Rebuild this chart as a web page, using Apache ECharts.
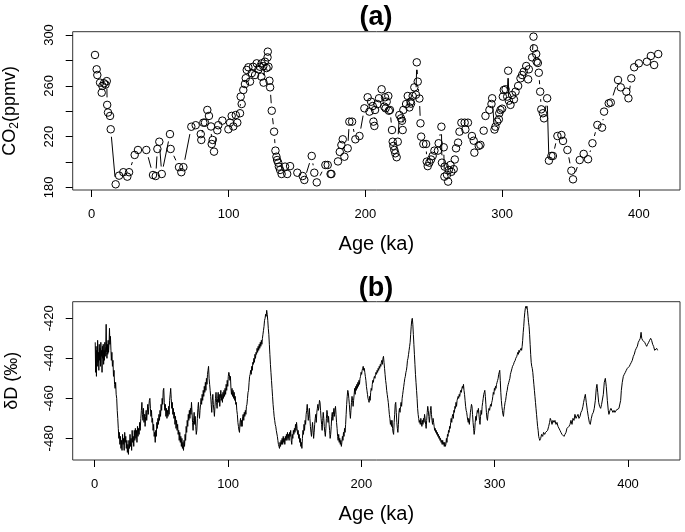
<!DOCTYPE html>
<html><head><meta charset="utf-8">
<script src="https://cdn.jsdelivr.net/npm/echarts@6/dist/echarts.min.js"></script>
<style>html,body{margin:0;padding:0;background:#fff}#c{width:685px;height:532px}</style>
</head><body><div id="c"></div><script>
// ---- data ----
const xTicks = [0, 100, 200, 300, 400];
const co2Ticks = [180, 200, 220, 240, 260, 280, 300];
const co2Labels = [180, 220, 260, 300];
const dDTicks = [-480, -460, -440, -420];

// CO2 (age ka, ppmv)
const co2Data = [
[2.4,284.3],[3.6,273],[4.1,268.5],[6.1,262.5],[7.3,254.6],[7.8,259.9],[9.0,262],[10.1,261],[11.0,263.7],[11.3,245],
[11.9,239],[13.4,236.3],[13.9,225.8],[17.5,182.5],[20.0,189.3],[23.1,192],[26.0,188.5],[27.3,192],[31.4,205.6],[33.8,209.5],
[39.9,209.5],[44.8,189.8],[46.8,189],[48.0,210.3],[49.4,216],[51.2,190.6],[57.2,222],[57.7,210.3],[63.8,196],[65.5,192],
[67.0,196],[72.8,227.8],[76.0,229],[79.7,222],[80.1,217.4],[81.6,231],[82.8,231],[84.5,241],[85.7,236.3],[87.2,228],
[87.7,214.2],[88.4,217.4],[89.4,208.2],[91.8,225],[92.5,229],[95.5,232.6],[99.9,225.8],[101.1,231],[102.3,236.3],[103.5,228],
[105.3,237],[106.4,231],[108.4,238.4],[108.9,251.5],[109.6,245.7],[110.8,256.7],[112.0,261.4],[112.6,266],[113.3,272.5],[114.5,274.6],
[115.7,263.3],[117.0,270],[117.9,275],[119.4,268.5],[120.6,277.7],[121.9,273],[123.0,275],[124.0,267.2],[124.2,277.7],[125.4,275.5],
[125.6,262.5],[126.6,279],[127.8,274],[128.5,282.4],[128.7,286.9],[129.2,275],[129.9,264],[130.4,258.8],[131.6,240.4],[133.3,223.9],
[134.3,209],[135.0,204.2],[135.5,201.6],[136.3,199.5],[136.8,196.4],[137.7,193.8],[138.8,190.6],[141.3,196.4],[142.9,190.6],[145.0,196.8],
[150.3,191.6],[154.2,189],[155.4,185.9],[160.8,204.8],[162.7,191.6],[164.5,184],[170.8,197.7],[172.5,197.7],[174.6,190.6],[175.2,190.6],
[180.0,200.5],[181.3,208],[182.5,213.4],[183.5,217.9],[184.7,204.2],[187.1,210.8],[188.3,231.8],[190.3,231.8],[192.7,217.9],[195.7,220.5],
[199.3,242.3],[201.7,251],[203.0,239.7],[204.2,247.5],[205.4,244.1],[205.9,231.8],[206.6,228.4],[207.1,241],[208.8,245.6],[210.0,250.2],
[211.9,257.3],[213.9,243.6],[214.4,251],[214.8,242.3],[215.6,247.5],[216.8,252],[217.2,240.4],[218.0,241],[219.5,225.2],[220.0,216],
[220.5,212.7],[221.2,209.5],[221.9,206.9],[222.9,203.8],[223.7,216],[224.9,237],[226.1,234.4],[226.8,232.5],[227.3,225.2],[227.8,241],
[229.8,245.7],[231.0,252],[232.2,243],[233.0,247.5],[233.4,246],[234.6,252],[235.8,258.8],[237.0,253],[237.6,278.5],[238.3,263.3],
[239.5,250],[240.3,230.5],[240.8,220],[242.4,214.2],[244.4,214.2],[244.9,200.3],[245.6,196.8],[246.8,199.5],[248.0,202],[249.2,204.8],
[250.5,209],[253.1,209],[253.6,214.8],[255.6,227.8],[256.0,199.5],[257.3,211.6],[257.8,188.5],[258.0,196.4],[259.7,190],[260.5,184.6],
[261.0,193.8],[262.2,197.7],[262.9,192.3],[264.6,194.4],[265.4,202],[266.3,210.8],[267.8,215.3],[268.8,223.9],[270.2,231],[272.6,231],
[273.1,225.6],[275.0,231],[277.9,220.5],[279.2,216.8],[279.7,207.4],[282.9,212.7],[284.1,213.5],[286.5,224.7],[287.8,236.3],[290.7,241],
[292.2,245.7],[292.7,250.2],[294.4,225.6],[295.1,227.8],[296.4,231.8],[297.6,233.7],[297.9,238.4],[298.8,241],[300.0,242],[300.5,251.5],
[301.2,256.7],[302.5,257.3],[303.7,251.5],[304.4,271.9],[304.9,248.3],[306.1,245],[307.3,252.8],[308.6,249.3],[309.8,255.4],[311.7,259.9],
[313.4,265.9],[314.6,268.5],[315.8,271.1],[317.6,275.6],[319.0,265.1],[319.5,273],[321.9,282.4],[322.9,298.7],[323.2,289.5],[324.9,285],
[325.2,279],[326.1,278],[326.8,270.3],[327.8,255.4],[328.6,241.5],[329.8,238.4],[330.6,234.4],[332.9,250.2],[334.2,201.1],[336.0,204.8],
[337.1,204.8],[340.4,220.5],[343.3,221.3],[344.5,216.6],[347.7,209.5],[350.6,193.2],[351.8,186.4],[356.7,201.6],[359.6,206.4],[362.8,202.2],
[366.0,214.8],[369.6,229.2],[373.0,227.1],[374.5,239.7],[377.9,246.2],[379.4,246.8],[384.7,264.6],[386.7,258.8],[390.8,255.4],[392.3,250.2],
[394.4,265.9],[396.5,274.6],[399.9,277.7],[405.8,279],[408.7,283.5],[411.1,276.4],[414.1,285]
];

// deuterium (age ka, per mil)
const dDData = [
[0.4,-432],[0.7,-447],[1.0,-434],[1.3,-449],[1.6,-436],[1.9,-444],[2.2,-431],[2.5,-442],[2.8,-437],[3.1,-446],[3.4,-433],[3.7,-441],[4.0,-435],[4.3,-444],[4.6,-432],[4.9,-439],[5.2,-436],[5.5,-447],[5.8,-434],[6.1,-440],[6.4,-433],[6.7,-443],[7.0,-436],[7.3,-441],[7.6,-432],[7.9,-439],[8.3,-434],[8.6,-423],[8.9,-437],[9.2,-440],[9.5,-433],[9.8,-438],[10.1,-431],[10.4,-437],[10.8,-432],[11.1,-425],[11.4,-433],[11.8,-429],
[12.2,-436],[12.5,-441],[12.9,-437],[13.3,-444],[13.7,-441],[14.1,-449],[14.5,-446],[14.9,-453],[15.3,-455],[15.7,-452],[16.1,-458],[16.5,-460],[16.9,-466],[17.3,-470],[17.7,-475],[18.1,-480],[18.5,-477],[18.9,-483],
[19.3,-479],[19.7,-485],[20.1,-481],[20.5,-486],[20.9,-478],[21.3,-483],[21.7,-480],[22.1,-486],[22.5,-477],[22.9,-482],[23.3,-479],[23.7,-485],[24.1,-481],[24.5,-487],[24.9,-483],[25.3,-488],[25.7,-481],[26.1,-485],[26.5,-478],[26.9,-484],[27.3,-480],[27.7,-486],[28.1,-476],[28.5,-482],[28.9,-479],[29.3,-484],[29.7,-476],[30.1,-481],[30.5,-475],[30.9,-480],[31.3,-476],[31.7,-482],[32.1,-474],[32.5,-479],[32.9,-475],[33.3,-478],[33.7,-472],[34.1,-476],
[34.6,-470],[35.0,-466],[35.4,-462],[35.8,-468],[36.2,-471],[36.6,-465],[37.0,-472],[37.4,-468],[37.8,-474],[38.2,-469],[38.6,-466],[39.0,-471],[39.4,-467],[39.8,-463],[40.2,-468],[40.6,-464],[41.0,-461],[41.4,-460],[41.8,-465],[42.2,-469],[42.6,-466],[43.0,-472],[43.4,-470],[43.8,-476],[44.2,-473],[44.6,-479],[45.0,-477],[45.4,-482],[45.8,-476],[46.2,-479],[46.6,-472],[47.0,-475],[47.4,-470],[47.8,-473],[48.2,-468],[48.6,-471],[49.0,-466],[49.4,-469],[49.8,-463],[50.2,-466],[50.6,-460],[51.0,-463],[51.4,-456],[51.8,-455],[52.2,-462],[52.6,-466],[53.0,-463],[53.4,-469],[53.8,-465],[54.2,-470],[54.6,-466],[55.0,-469],[55.4,-464],[55.8,-468],[56.2,-461],[56.6,-458],[57.0,-455],[57.4,-460],[57.8,-465],[58.2,-462],[58.6,-468],[59.0,-465],[59.4,-470],[59.8,-467],[60.2,-473],[60.6,-469],[61.0,-475],[61.4,-471],[61.8,-476],[62.2,-473],[62.6,-478],[63.0,-476],[63.4,-481],[63.8,-477],[64.2,-482],[64.6,-479],[65.0,-484],[65.4,-480],[65.8,-485],[66.2,-482],[66.6,-486],[67.0,-481],[67.4,-484],[67.8,-478],[68.2,-481],[68.6,-474],[69.0,-477],[69.4,-471],[69.8,-474],[70.2,-468],[70.6,-471],
[71.0,-466],[71.4,-470],[71.8,-465],[72.2,-468],[72.6,-462],[73.0,-467],[73.4,-472],[73.8,-476],[74.2,-471],[74.6,-467],[75.0,-473],[75.4,-469],[75.8,-474],[76.2,-478],[76.6,-476],[77.0,-470],[77.4,-465],[77.8,-462],[78.2,-467],[78.6,-470],[79.0,-466],[79.4,-463],[79.8,-460],[80.2,-463],[80.6,-458],[81.0,-461],[81.4,-456],[81.8,-459],[82.2,-454],[82.6,-457],[83.0,-452],[83.4,-456],[83.8,-450],[84.2,-453],[84.6,-448],[85.0,-446],[85.4,-444],[85.8,-450],[86.2,-453],[86.6,-456],[87.0,-459],[87.4,-463],[87.8,-467],[88.2,-461],[88.6,-458],[89.0,-463],[89.4,-466],[89.8,-469],[90.2,-464],[90.6,-460],[91.0,-457],[91.4,-462],[91.8,-465],[92.2,-460],[92.6,-457],[93.0,-462],[93.4,-458],[93.8,-464],[94.2,-460],[94.6,-456],[95.0,-461],[95.4,-458],[95.8,-462],[96.2,-457],[96.6,-460],[97.0,-456],[97.4,-459],[97.8,-455],[98.2,-458],[98.6,-453],[99.0,-456],[99.4,-451],[99.8,-454],[100.2,-449],[100.6,-447],[101.0,-448],
[101.4,-451],[101.8,-449],[102.2,-455],[102.6,-458],[103.0,-455],[103.4,-459],[103.8,-456],[104.2,-460],[104.6,-457],[105.0,-461],[105.4,-459],[105.8,-463],[106.2,-462],[106.6,-466],[107.0,-468],[107.4,-472],[107.8,-474],[108.2,-476],[108.6,-477],[109.0,-472],[109.4,-470],[109.8,-474],[110.2,-471],[110.6,-474],[111.0,-469],[111.4,-468],[111.8,-471],[112.2,-467],[112.6,-469],[113.0,-466],[113.4,-468],[113.8,-464],[114.2,-463],[114.6,-460],[115.0,-457],[115.4,-456],[115.8,-452],[116.2,-449],[116.6,-448],[117.0,-446],[117.4,-448],[117.8,-444],[118.2,-446],[118.6,-442],[119.0,-443],[119.4,-440],[119.8,-442],[120.2,-438],[120.6,-440],[121.0,-437],[121.4,-438],[121.8,-435],[122.2,-437],[122.6,-434],[123.0,-436],[123.4,-433],[123.8,-435],[124.2,-432],[124.6,-434],[125.0,-431],[125.4,-433],[125.8,-430],[126.2,-428],[126.6,-426],[127.0,-424],[127.4,-421],[127.8,-420],[128.2,-418],[128.6,-419],[129.0,-416],[129.4,-418],[129.8,-421],[130.2,-425],[130.6,-428],[131.0,-433],[131.4,-438],[131.8,-443],[132.2,-447],[132.6,-451],[133.0,-455],[133.4,-459],[133.8,-463],[134.2,-466],[134.6,-469],[135.0,-471],[135.4,-473],[135.8,-474],[136.2,-476],[136.6,-476],[137.0,-479],[137.4,-481],[137.8,-483],[138.2,-484],[138.6,-485],[139.0,-482],
[139.4,-484],[139.8,-481],[140.2,-483],[140.6,-480],[141.0,-483],[141.4,-479],[141.8,-482],[142.2,-480],[142.6,-483],[143.0,-479],[143.4,-481],[143.8,-478],[144.2,-481],[144.6,-477],[145.0,-480],[145.4,-478],[145.8,-481],[146.2,-477],[146.6,-479],[147.0,-476],[147.4,-481],[147.8,-483],[148.2,-478],[148.6,-480],[149.0,-476],[149.4,-478],[149.8,-475],[150.2,-477],[150.6,-473],[151.0,-476],[151.4,-472],[151.8,-475],[152.2,-478],[152.6,-476],[153.0,-480],[153.4,-478],[153.8,-482],[154.2,-480],[154.6,-484],[155.0,-482],[155.4,-485],[155.8,-480],[156.2,-476],[156.6,-478],[157.0,-473],[157.4,-476],[157.8,-471],[158.2,-473],[158.6,-468],[159.0,-466],[159.4,-463],[159.8,-467],[160.2,-471],[160.6,-468],[161.0,-465],[161.4,-470],[161.8,-474],[162.2,-477],[162.6,-479],[163.0,-475],[163.4,-472],[163.8,-476],[164.2,-480],[164.6,-477],[165.0,-473],[165.4,-470],[165.8,-468],[166.2,-472],[166.6,-467],[167.0,-465],[167.4,-463],[167.8,-466],[168.2,-464],[168.6,-461],[169.0,-462],[169.4,-466],[169.8,-470],[170.2,-473],[170.6,-476],[171.0,-471],[171.4,-467],[171.8,-470],[172.2,-474],[172.6,-477],[173.0,-479],[173.4,-475],[173.8,-470],[174.2,-466],[174.6,-468],[175.0,-472],[175.4,-469],[175.8,-473],[176.2,-476],[176.6,-480],[177.0,-478],[177.4,-474],[177.8,-469],[178.2,-467],[178.6,-471],[179.0,-468],[179.4,-465],[179.8,-469],[180.2,-466],[180.6,-464],[181.0,-468],[181.4,-472],[181.8,-475],[182.2,-479],[182.6,-481],[183.0,-478],[183.4,-482],[183.8,-480],[184.2,-483],[184.6,-481],[185.0,-484],[185.4,-482],[185.8,-479],[186.2,-481],[186.6,-477],[187.0,-479],[187.4,-475],[187.8,-477],[188.2,-473],[188.6,-468],[189.0,-463],[189.4,-459],[189.8,-456],[190.2,-457],[190.6,-460],
[191.0,-463],[191.4,-467],[191.8,-470],[192.2,-466],[192.6,-462],[193.0,-459],[193.4,-461],[193.8,-464],[194.2,-461],[194.6,-458],[195.0,-455],[195.4,-458],[195.8,-454],[196.2,-456],[196.6,-453],[197.0,-455],[197.4,-452],[197.8,-454],[198.2,-451],[198.6,-453],[199.0,-450],[199.4,-449],[199.8,-447],[200.2,-448],[200.6,-446],[201.0,-445],[201.4,-444],[201.8,-446],[202.2,-445],[202.6,-447],[203.0,-449],[203.4,-451],[203.8,-454],[204.2,-456],[204.6,-458],[205.0,-460],[205.4,-461],[205.8,-462],[206.2,-459],[206.6,-461],[207.0,-457],[207.4,-455],[207.8,-456],[208.2,-453],[208.6,-451],[209.0,-452],[209.4,-450],[209.8,-449],[210.2,-450],[210.6,-448],[211.0,-447],[211.4,-448],[211.8,-446],[212.2,-447],[212.6,-445],[213.0,-446],[213.4,-444],[213.8,-445],[214.2,-443],[214.6,-444],[215.0,-442],[215.4,-441],[215.8,-443],[216.2,-440],[216.6,-439],[217.0,-442],[217.4,-445],[217.8,-448],[218.2,-451],[218.6,-453],[219.0,-456],[219.4,-458],[219.8,-460],[220.2,-462],[220.6,-465],[221.0,-468],[221.4,-470],[221.8,-473],[222.2,-471],[222.6,-474],[223.0,-471],[223.4,-475],[223.8,-477],[224.2,-478],[224.6,-472],[225.0,-468],[225.4,-463],[225.8,-462],[226.2,-467],[226.6,-472],[227.0,-475],[227.4,-477],[227.8,-473],[228.2,-467],[228.6,-465],[229.0,-467],[229.4,-464],[229.8,-462],[230.2,-464],[230.6,-460],[231.0,-458],[231.4,-456],[231.8,-454],[232.2,-452],[232.6,-450],[233.0,-449],[233.4,-447],[233.8,-446],[234.2,-444],[234.6,-441],[235.0,-440],[235.4,-438],[235.8,-436],[236.2,-434],[236.6,-432],[237.0,-428],[237.4,-424],[237.8,-421],[238.2,-420],[238.6,-423],[239.0,-428],[239.4,-433],[239.8,-438],[240.2,-443],[240.6,-448],[241.0,-452],[241.4,-456],[241.8,-460],[242.2,-465],[242.6,-468],[243.0,-470],[243.4,-472],[243.8,-471],[244.2,-473],[244.6,-470],[245.0,-472],[245.4,-474],[245.8,-471],[246.2,-473],[246.6,-470],[247.0,-472],[247.4,-468],[247.8,-470],[248.2,-473],[248.6,-475],[249.0,-471],[249.4,-467],[249.8,-464],[250.2,-466],[250.6,-469],[251.0,-472],[251.4,-469],[251.8,-466],[252.2,-464],[252.6,-468],[253.0,-471],[253.4,-473],[253.8,-470],[254.2,-472],[254.6,-474],[255.0,-476],[255.4,-475],[255.8,-477],[256.2,-476],[256.6,-478],[257.0,-477],[257.4,-479],[257.8,-478],[258.2,-480],[258.6,-479],[259.0,-481],[259.4,-480],[259.8,-482],[260.2,-481],[260.6,-483],[261.0,-481],[261.4,-483],[261.8,-482],[262.2,-484],[262.6,-482],[263.0,-484],[263.4,-483],[263.8,-480],[264.2,-482],[264.6,-478],[265.0,-479],[265.4,-476],[265.8,-477],[266.2,-474],[266.6,-475],[267.0,-472],
[267.4,-470],[267.8,-472],[268.2,-469],[268.6,-468],[269.0,-470],[269.4,-466],[269.8,-467],[270.2,-464],[270.6,-465],[271.0,-462],[271.4,-464],[271.8,-461],[272.2,-461],[272.6,-459],[273.0,-460],[273.4,-458],[273.8,-459],[274.2,-457],[274.6,-456],[275.0,-457],[275.4,-455],[275.8,-454],[276.2,-455],[276.6,-453],[277.0,-456],[277.4,-458],[277.8,-461],[278.2,-464],[278.6,-466],[279.0,-467],[279.4,-469],[279.8,-471],[280.2,-472],[280.6,-470],[281.0,-473],[281.4,-470],[281.8,-467],[282.2,-465],[282.6,-463],[283.0,-464],[283.4,-468],[283.8,-472],[284.2,-475],[284.6,-478],[285.0,-476],[285.4,-472],[285.8,-469],[286.2,-471],[286.6,-468],[287.0,-466],[287.4,-467],[287.8,-465],[288.2,-468],[288.6,-471],[289.0,-473],[289.4,-469],[289.8,-466],[290.2,-468],[290.6,-464],[291.0,-462],[291.4,-460],[291.8,-458],[292.2,-457],[292.6,-456],[293.0,-459],[293.4,-463],[293.8,-467],[294.2,-470],[294.6,-471],[295.0,-468],[295.4,-466],[295.8,-465],[296.2,-466],[296.6,-464],[297.0,-463],[297.4,-464],[297.8,-462],[298.2,-461],[298.6,-459],[299.0,-457],[299.4,-458],[299.8,-455],[300.2,-456],[300.6,-454],[301.0,-455],[301.4,-453],[301.8,-452],[302.2,-451],[302.6,-450],[303.0,-448],[303.4,-447],[303.8,-446],[304.2,-451],[304.6,-457],[305.0,-461],[305.4,-464],[305.8,-466],[306.2,-468],[306.6,-469],[307.0,-466],[307.4,-464],[307.8,-462],[308.2,-461],[308.6,-459],[309.0,-457],[309.4,-456],[309.8,-454],[310.2,-453],[310.6,-452],[311.0,-451],[311.4,-450],[311.8,-448],[312.2,-447],[312.6,-447],[313.0,-445],[313.4,-444],[313.8,-444],[314.2,-443],[314.6,-442],[315.0,-442],[315.4,-441],[315.8,-440],[316.2,-440],[316.6,-439],[317.0,-438],[317.4,-437],[317.8,-438],[318.2,-436],[318.6,-437],[319.0,-436],[319.4,-436],[319.8,-435],[320.2,-436],[320.6,-434],[321.0,-431],[321.4,-427],[321.8,-424],[322.2,-420],[322.6,-417],[323.0,-415],[323.4,-414],[323.8,-415],[324.2,-414],[324.6,-416],[325.0,-419],[325.4,-422],[325.8,-424],[326.2,-428],[326.6,-433],[327.0,-438],[327.4,-442],[327.8,-444],[328.2,-445],[328.6,-447],[329.0,-450],[329.4,-453],[329.8,-456],[330.2,-459],[330.6,-462],[331.0,-465],[331.4,-468],[331.8,-471],[332.2,-474],[332.6,-476],[333.0,-479],[333.4,-480],[333.8,-481],
[334.5,-480],[335.2,-478],[336.0,-479],[336.7,-477],[337.5,-478],[338.2,-477],[339.0,-477],[339.7,-476],[340.5,-474],[341.2,-472],[341.7,-470],[342.3,-471],[343.0,-473],[343.7,-471],[344.5,-472],[345.2,-471],[346.0,-473],[346.7,-472],[347.5,-474],[348.2,-474],[349.0,-476],[349.7,-477],[350.5,-478],[351.2,-478],[352.0,-479],[352.7,-478],[353.5,-477],[354.2,-475],[355.0,-475],[355.7,-474],[356.5,-473],[357.2,-471],[358.0,-473],[358.7,-470],[359.5,-471],[360.2,-468],[361.0,-470],[361.7,-469],[362.5,-468],[363.2,-470],[364.0,-469],[364.7,-467],[365.5,-466],[366.2,-464],[366.7,-462],[367.3,-460],[368.0,-458],[368.7,-462],[369.5,-466],[370.2,-469],[371.0,-472],[371.7,-473],[372.5,-470],[373.2,-468],[374.0,-467],[374.7,-465],[375.5,-461],[376.2,-455],[376.7,-453],[377.3,-457],[378.0,-462],[378.7,-464],[379.5,-465],[380.2,-463],[380.7,-463],[381.5,-458],[382.2,-452],[383.0,-450],[383.7,-454],[384.5,-461],[385.2,-466],[385.7,-468],[386.5,-466],[387.2,-465],[388.0,-465],[388.7,-467],[389.5,-466],[390.2,-467],[391.0,-466],[391.7,-466],[392.5,-466],[393.2,-465],[394.0,-465],[394.5,-461],[395.0,-456],[395.7,-452],[396.5,-449],[397.2,-448],
[398.0,-447],[398.7,-446],[399.5,-445],[400.2,-445],[401.0,-444],[401.7,-443],[402.5,-442],[403.2,-441],[404.0,-439],[404.7,-438],[405.5,-436],[406.2,-435],[407.0,-434],[407.7,-432],[408.5,-431],[409.2,-430],[409.8,-427],[410.3,-430],[411.0,-431],[411.7,-431],[412.5,-432],[413.2,-433],[414.0,-434],[414.7,-433],[415.5,-432],[416.2,-431],[417.0,-430],[417.7,-431],[418.5,-433],[419.2,-434],[420.0,-436],[420.7,-436],[421.5,-435],[422.2,-436]
];

// ---- chart ----
const FONT = '"Liberation Sans", Arial, Helvetica, sans-serif';
const GAP = 7.5; // gap around circles for the "b" line type

const chart = echarts.init(document.getElementById('c'), null, {renderer: 'canvas'});

function xAxisCfg(grid, min, max) {
  return {
    gridIndex: grid, type: 'value', min: min, max: max,
    name: 'Age (ka)', nameLocation: 'middle', nameGap: 44,
    nameTextStyle: {fontFamily: FONT, fontSize: 20, color: '#000'},
    axisLine: {show: false, onZero: false},
    axisTick: {show: true, length: 7, customValues: xTicks, lineStyle: {color: '#000', width: 1}},
    axisLabel: {show: true, customValues: xTicks, margin: 18, fontFamily: FONT, fontSize: 13, color: '#000'},
    splitLine: {show: false}
  };
}

const gridBase = {left: 72.7, width: 607.3, height: 158.3, show: true, borderColor: '#333', borderWidth: 1,
  backgroundColor: 'transparent', containLabel: false, outerBoundsMode: 'none'};

const option = {
  animation: false,
  backgroundColor: '#fff',
  textStyle: {fontFamily: FONT},
  title: [
    {text: '(a)', left: 371, top: -1, textAlign: 'center', textStyle: {fontFamily: FONT, fontSize: 27, fontWeight: 'bold', color: '#000'}},
    {text: '(b)', left: 371, top: 270, textAlign: 'center', textStyle: {fontFamily: FONT, fontSize: 27, fontWeight: 'bold', color: '#000'}}
  ],
  grid: [
    Object.assign({}, gridBase, {top: 31.7}),
    Object.assign({}, gridBase, {top: 301.7})
  ],
  xAxis: [xAxisCfg(0, -13.9, 430), xAxisCfg(1, -16.5, 439)],
  yAxis: [
    {
      gridIndex: 0, type: 'value', min: 178, max: 302.6,
      name: '{a|CO}{s|2}{a|(ppmv)}', nameLocation: 'middle', nameGap: 52, nameRotate: 90,
      nameTextStyle: {fontFamily: FONT, color: '#000', rich: {
        a: {fontFamily: FONT, fontSize: 18, color: '#000', lineHeight: 22, verticalAlign: 'middle'},
        s: {fontFamily: FONT, fontSize: 12, color: '#000', lineHeight: 12, padding: [9, 0, 0, 0], verticalAlign: 'bottom'}
      }},
      axisLine: {show: false, onZero: false},
      axisTick: {show: true, length: 7, customValues: co2Ticks, lineStyle: {color: '#000', width: 1}},
      axisLabel: {show: true, customValues: co2Labels, rotate: 90, margin: 17, fontFamily: FONT, fontSize: 13, color: '#000'},
      splitLine: {show: false}
    },
    {
      gridIndex: 1, type: 'value', min: -490.8, max: -411.7,
      name: 'δD (‰)', nameLocation: 'middle', nameGap: 52, nameRotate: 90,
      nameTextStyle: {fontFamily: FONT, fontSize: 18, color: '#000'},
      axisLine: {show: false, onZero: false},
      axisTick: {show: true, length: 7, customValues: dDTicks, lineStyle: {color: '#000', width: 1}},
      axisLabel: {show: true, customValues: dDTicks, rotate: 90, margin: 17, fontFamily: FONT, fontSize: 13, color: '#000'},
      splitLine: {show: false}
    }
  ],
  series: [
    {
      type: 'custom', xAxisIndex: 0, yAxisIndex: 0, data: co2Data, silent: true, clip: true,
      encode: {x: 0, y: 1},
      renderItem: function (params, api) {
        const i = params.dataIndex;
        if (i === 0) return null;
        const p0 = api.coord(co2Data[i - 1]);
        const p1 = api.coord(co2Data[i]);
        const dx = p1[0] - p0[0], dy = p1[1] - p0[1];
        const d = Math.sqrt(dx * dx + dy * dy);
        if (d <= 2 * GAP) return null;
        const ux = dx / d, uy = dy / d;
        return {
          type: 'line',
          shape: {x1: p0[0] + ux * GAP, y1: p0[1] + uy * GAP, x2: p1[0] - ux * GAP, y2: p1[1] - uy * GAP},
          style: {stroke: '#000', lineWidth: 1}
        };
      }
    },
    {
      type: 'scatter', xAxisIndex: 0, yAxisIndex: 0, data: co2Data, silent: true,
      symbol: 'circle', symbolSize: 7.5,
      itemStyle: {color: 'rgba(0,0,0,0)', borderColor: '#000', borderWidth: 1, opacity: 1}
    },
    {
      type: 'line', xAxisIndex: 1, yAxisIndex: 1, data: dDData, silent: true,
      showSymbol: false, symbol: 'none', sampling: null,
      lineStyle: {color: '#000', width: 1}
    }
  ]
};
chart.setOption(option);
</script></body></html>
